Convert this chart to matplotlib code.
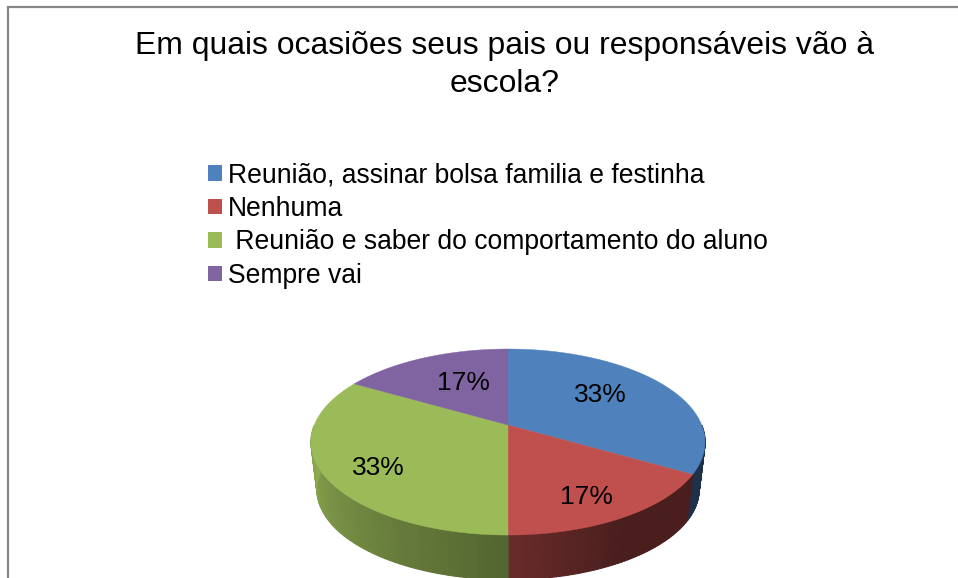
import numpy as np
import matplotlib
matplotlib.use("Agg")
import matplotlib.pyplot as plt
from matplotlib.patches import Patch

plt.rcParams['font.family'] = ['Liberation Sans', 'DejaVu Sans']

title = "Em quais ocasiões seus pais ou responsáveis vão à\nescola?"
categories = ["Reunião, assinar bolsa familia e festinha",
              "Nenhuma",
              " Reunião e saber do comportamento do aluno",
              "Sempre vai"]
values = [2, 1, 2, 1]
colors = ["#4F81BD", "#C0504D", "#9BBB59", "#8064A2"]

# where the percent labels sit along each slice, as a fraction of the radius,
# plus a small nudge in pixels
label_radius = [0.6, 0.76, 0.75, 0.58]
label_nudge = [(-3, -4), (-5, 5), (5, 7), (7, -1)]

# the pie is a unit circle seen in perspective
cx, cy = 508, 425
k = 0.183
ax_x, ax_y = 193.7, 89.9
depth = 48
shrink = 0.97


def project(theta, r=1.0):
    # theta in degrees, clockwise from the top
    t = np.radians(theta)
    x = r * np.sin(t)
    y = r * np.cos(t)
    w = 1 + k * y
    return ax_x * x / w, -ax_y * y / w


def shade(theta):
    return np.interp(theta, [90, 150, 180, 270], [0.38, 0.38, 0.54, 0.92])


fig = plt.figure(figsize=(9.58, 5.78), dpi=100)
ax = fig.add_axes([0, 0, 1, 1])
ax.set_xlim(0, 958)
ax.set_ylim(578, 0)
ax.axis('off')

# chart border, the right and bottom sides are cut off in the picture
ax.plot([958, 8.5, 8.5], [7, 7, 578], color='#868686', lw=1.6, solid_joinstyle='miter')

edges = 360 * np.cumsum([0] + values) / sum(values)

# side wall, small quads so the shading can run along the rim
for i in range(len(values)):
    start, end = edges[i], edges[i + 1]
    if end <= 90 or start >= 270:
        continue
    steps = np.linspace(max(start, 90), min(end, 270), 60)
    base = np.array(matplotlib.colors.to_rgb(colors[i]))
    for a, b in zip(steps[:-1], steps[1:]):
        xa, ya = project(a)
        xb, yb = project(b)
        quad_x = [cx + xa, cx + xb, cx + shrink * xb, cx + shrink * xa]
        quad_y = [cy + ya, cy + yb, cy + depth + shrink * yb, cy + depth + shrink * ya]
        c = base * shade((a + b) / 2)
        ax.fill(quad_x, quad_y, color=c, lw=0.8, zorder=2)

# top of the pie
for i in range(len(values)):
    theta = np.linspace(edges[i], edges[i + 1], 120)
    xs, ys = project(theta)
    ax.fill(np.r_[cx, cx + xs], np.r_[cy, cy + ys], color=colors[i], lw=0.3, zorder=3)

for i in range(len(values)):
    mid = (edges[i] + edges[i + 1]) / 2
    lx, ly = project(mid, label_radius[i])
    pct = "%.0f%%" % (100 * values[i] / sum(values))
    ax.text(cx + lx + label_nudge[i][0], cy + ly + label_nudge[i][1], pct, fontsize=19,
            ha='center', va='center', color='black', zorder=4)

ax.text(505, 65, title, fontsize=22.96, ha='center', va='center', color='black', linespacing=1.35)

handles = [Patch(facecolor=c, edgecolor='none') for c in colors]
ax.legend(handles, categories, loc='upper left', bbox_to_anchor=(197 / 958, 1 - 152 / 578),
          frameon=False, fontsize=19.1, handlelength=0.53, handleheight=0.53,
          handletextpad=0.25, labelspacing=0.28, borderpad=0.4, borderaxespad=0)

fig.savefig('out.png', dpi=100)
